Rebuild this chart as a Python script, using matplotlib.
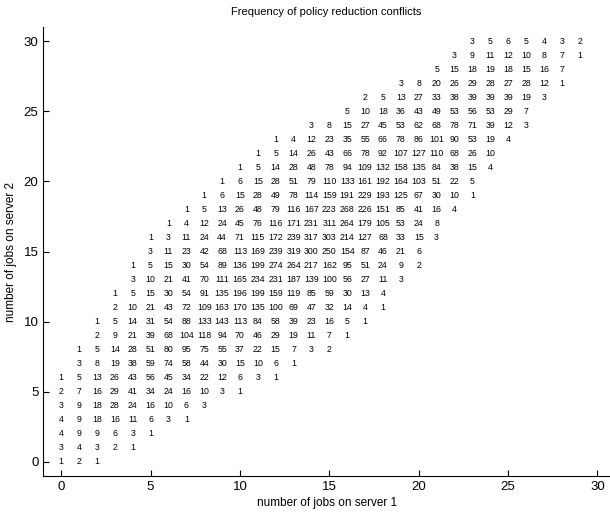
import numpy as np
import matplotlib
matplotlib.use('Agg')
import matplotlib.pyplot as plt

plt.rcParams['font.family'] = ['Liberation Sans', 'DejaVu Sans']

# jobs on server 2 (one row each), first column with an entry, and the counts
server2_jobs = list(range(31))
first_server1 = [0, 0, 0, 0, 0, 0, 0, 1, 1, 2, 2, 3, 3, 4, 4, 5, 5, 6, 7, 8,
                 9, 10, 11, 12, 14, 16, 17, 19, 21, 22, 23]
counts = [
    [1, 2, 1],
    [3, 4, 3, 2, 1],
    [4, 9, 9, 6, 3, 1],
    [4, 9, 18, 16, 11, 6, 3, 1],
    [3, 9, 18, 28, 24, 16, 10, 6, 3],
    [2, 7, 16, 29, 41, 34, 24, 16, 10, 3, 1],
    [1, 5, 13, 26, 43, 56, 45, 34, 22, 12, 6, 3, 1],
    [3, 8, 19, 38, 59, 74, 58, 44, 30, 15, 10, 6, 1],
    [1, 5, 14, 28, 51, 80, 95, 75, 55, 37, 22, 15, 7, 3, 2],
    [2, 9, 21, 39, 68, 104, 118, 94, 70, 46, 29, 19, 11, 7, 1],
    [1, 5, 14, 31, 54, 88, 133, 143, 113, 84, 58, 39, 23, 16, 5, 1],
    [2, 10, 21, 43, 72, 109, 163, 170, 135, 100, 69, 47, 32, 14, 4, 1],
    [1, 5, 15, 30, 54, 91, 135, 196, 199, 159, 119, 85, 59, 30, 13, 4],
    [3, 10, 21, 41, 70, 111, 165, 234, 231, 187, 139, 100, 56, 27, 11, 3],
    [1, 5, 15, 30, 54, 89, 136, 199, 274, 264, 217, 162, 95, 51, 24, 9, 2],
    [3, 11, 23, 42, 68, 113, 169, 239, 319, 300, 250, 154, 87, 46, 21, 6],
    [1, 3, 11, 24, 44, 71, 115, 172, 239, 317, 303, 214, 127, 68, 33, 15, 3],
    [1, 4, 12, 24, 45, 76, 116, 171, 231, 311, 264, 179, 105, 53, 24, 8],
    [1, 5, 13, 26, 48, 79, 116, 167, 223, 268, 226, 151, 85, 41, 16, 4],
    [1, 6, 15, 28, 49, 78, 114, 159, 191, 229, 193, 125, 67, 30, 10, 1],
    [1, 6, 15, 28, 51, 79, 110, 133, 161, 192, 164, 103, 51, 22, 5],
    [1, 5, 14, 28, 48, 78, 94, 109, 132, 158, 135, 84, 38, 15, 4],
    [1, 5, 14, 26, 43, 66, 78, 92, 107, 127, 110, 68, 26, 10],
    [1, 4, 12, 23, 35, 55, 66, 78, 86, 101, 90, 53, 19, 4],
    [3, 8, 15, 27, 45, 53, 62, 68, 78, 71, 39, 12, 3],
    [5, 10, 18, 36, 43, 49, 53, 56, 53, 29, 7],
    [2, 5, 13, 27, 33, 38, 39, 39, 39, 19, 3],
    [3, 8, 20, 26, 29, 28, 27, 28, 12, 1],
    [5, 15, 18, 19, 18, 15, 16, 7],
    [3, 9, 11, 12, 10, 8, 7, 1],
    [3, 5, 6, 5, 4, 3, 2],
]
ticks = [0, 5, 10, 15, 20, 25, 30]

fig = plt.figure(figsize=(6.10, 5.14), dpi=100)
ax = fig.add_axes([0.071, 0.0739, 0.929, 0.8735])

for y, x0, row in zip(server2_jobs, first_server1, counts):
    for k, c in enumerate(row):
        ax.text(x0 + k, y, str(c), ha='center', va='center', fontsize=6.3)

ax.set_xlim(-1, 30.7)
ax.set_ylim(-1, 31)
ax.set_xticks(ticks)
ax.set_yticks(ticks)
ax.tick_params(direction='in', length=4, labelsize=9.5, width=0.8)
ax.spines['top'].set_visible(False)
ax.spines['right'].set_visible(False)
for s in ['left', 'bottom']:
    ax.spines[s].set_linewidth(0.8)

ax.set_title('Frequency of policy reduction conflicts', fontsize=8, pad=9)
ax.set_xlabel('number of jobs on server 1', fontsize=8.5, labelpad=3)
ax.set_ylabel('number of jobs on server 2', fontsize=8.5, labelpad=5)

fig.savefig('out.png', dpi=100)
